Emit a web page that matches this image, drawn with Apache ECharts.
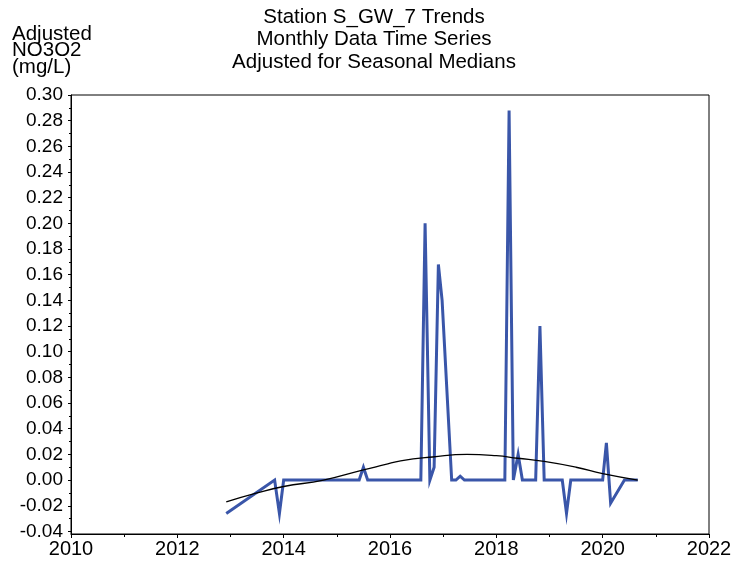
<!DOCTYPE html>
<html>
<head>
<meta charset="utf-8">
<script src="https://cdn.jsdelivr.net/npm/echarts@6/dist/echarts.min.js"></script>
<style>
html, body { margin: 0; padding: 0; background: #fff; }
#main { width: 748px; height: 564px; }
</style>
</head>
<body>
<div id="main"></div>
<script>
// adjusted NO3O2 series (decimal year, mg/L)
var obsYears = [2012.92, 2013.83, 2013.92, 2014.00, 2015.42, 2015.50, 2015.58, 2016.58,
    2016.66, 2016.75, 2016.83, 2016.91, 2016.98, 2017.16, 2017.24, 2017.32, 2017.40,
    2018.16, 2018.24, 2018.32, 2018.41, 2018.49, 2018.74, 2018.82, 2018.90, 2019.24,
    2019.32, 2019.40, 2020.00, 2020.07, 2020.15, 2020.41, 2020.66];
var obsValues = [-0.026, 0.0, -0.026, 0.0, 0.0, 0.010, 0.0, 0.0,
    0.200, 0.0, 0.010, 0.168, 0.140, 0.0, 0.0, 0.003, 0.0,
    0.0, 0.288, 0.0, 0.020, 0.0, 0.0, 0.120, 0.0, 0.0,
    -0.026, 0.0, 0.0, 0.029, -0.018, 0.0, 0.0];

// smooth trend line
var trendYears = [2012.92, 2013.5, 2014.0, 2014.75, 2015.5, 2015.9, 2016.2, 2016.8,
    2017.45, 2018.0, 2018.4, 2018.9, 2019.5, 2020.0, 2020.66];
var trendValues = [-0.017, -0.010, -0.005, 0.0, 0.008, 0.012, 0.015, 0.018,
    0.020, 0.019, 0.017, 0.0145, 0.010, 0.005, 0.0];

var yTicks = [-0.04, -0.02, 0.00, 0.02, 0.04, 0.06, 0.08, 0.10, 0.12, 0.14, 0.16,
    0.18, 0.20, 0.22, 0.24, 0.26, 0.28, 0.30];
var yMinorTicks = [-0.03, -0.01, 0.01, 0.03, 0.05, 0.07, 0.09, 0.11, 0.13, 0.15,
    0.17, 0.19, 0.21, 0.23, 0.25, 0.27, 0.29];

var obsData = obsYears.map(function (y, i) { return [y, obsValues[i]]; });
var trendData = trendYears.map(function (y, i) { return [y, trendValues[i]]; });

var FONT = '"Liberation Sans", Arial, sans-serif';

var chart = echarts.init(document.getElementById('main'));
var option = {
    animation: false,
    backgroundColor: '#fff',
    textStyle: { fontFamily: FONT, color: '#000' },
    graphic: [
        {
            type: 'text', x: 374, y: 6,
            style: {
                text: 'Station S_GW_7 Trends\nMonthly Data Time Series\nAdjusted for Seasonal Medians',
                font: '20.5px ' + FONT, fill: '#000', align: 'center', verticalAlign: 'top', lineHeight: 22.5
            }
        },
        {
            type: 'text', x: 12, y: 26,
            style: {
                text: 'Adjusted\nNO3O2\n(mg/L)',
                font: '20.5px ' + FONT, fill: '#000', align: 'left', verticalAlign: 'top', lineHeight: 16.5
            }
        }
    ],
    grid: {
        left: 71, right: 39, top: 95, bottom: 30,
        containLabel: false,
        outerBoundsMode: 'none',
        show: true, borderColor: '#000', borderWidth: 1, backgroundColor: 'transparent'
    },
    xAxis: {
        type: 'value', min: 2010, max: 2022, interval: 2,
        axisLine: { show: true, onZero: false, lineStyle: { color: '#000', width: 1 } },
        axisTick: { show: true, inside: false, length: 4, lineStyle: { color: '#000' } },
        minorTick: { show: true, splitNumber: 2, length: 3, lineStyle: { color: '#000' } },
        axisLabel: { color: '#000', fontSize: 20, fontFamily: FONT, margin: 5,
            formatter: function (v) { return String(v); } },
        splitLine: { show: false }
    },
    yAxis: [
        {
            type: 'value', min: -0.042, max: 0.30, position: 'left',
            axisLine: { show: true, onZero: false, lineStyle: { color: '#000', width: 1 } },
            axisTick: { show: true, inside: false, length: 3, customValues: yTicks, lineStyle: { color: '#000' } },
            axisLabel: { color: '#000', fontSize: 19, fontFamily: FONT, margin: 8, customValues: yTicks,
                formatter: function (v) { return v.toFixed(2); } },
            splitLine: { show: false }
        },
        {
            type: 'value', min: -0.042, max: 0.30, position: 'left',
            axisLine: { show: false, onZero: false },
            axisTick: { show: true, inside: false, length: 2, customValues: yMinorTicks, lineStyle: { color: '#000' } },
            axisLabel: { show: false, customValues: yMinorTicks },
            splitLine: { show: false }
        }
    ],
    series: [
        {
            type: 'line', data: obsData, showSymbol: false, symbol: 'none',
            lineStyle: { color: '#3A56A9', width: 3, join: 'miter' },
            z: 2
        },
        {
            type: 'line', data: trendData, showSymbol: false, symbol: 'none', smooth: true,
            lineStyle: { color: '#000', width: 1.3 },
            z: 3
        }
    ]
};
chart.setOption(option);
</script>
</body>
</html>
